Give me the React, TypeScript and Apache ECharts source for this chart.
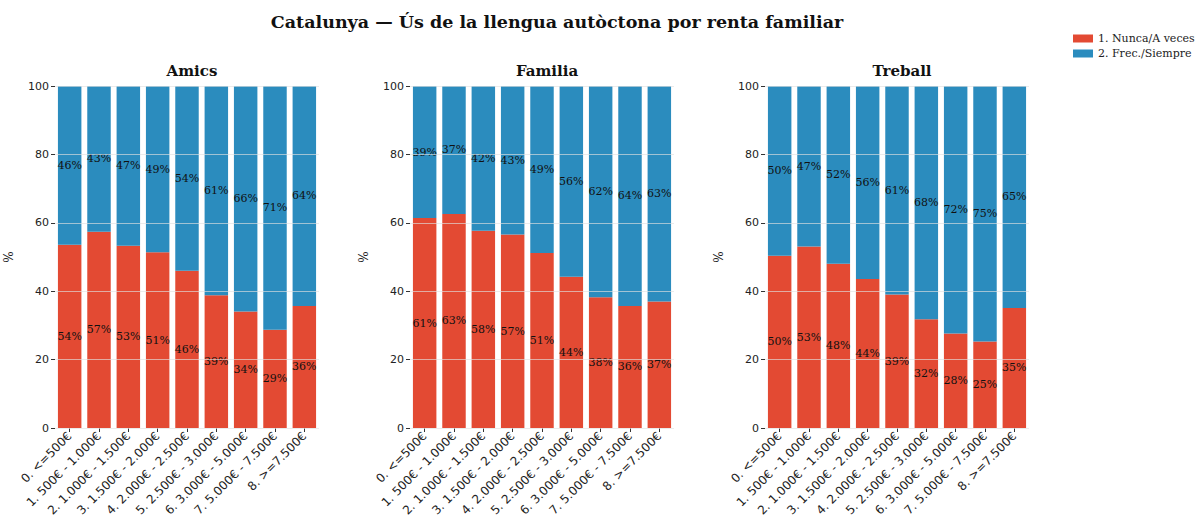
import React, { useEffect, useRef } from "react";
import * as echarts from "echarts";

const categories = [
  "0. <=500€",
  "1. 500€ - 1.000€",
  "2. 1.000€ - 1.500€",
  "3. 1.500€ - 2.000€",
  "4. 2.000€ - 2.500€",
  "5. 2.500€ - 3.000€",
  "6. 3.000€ - 5.000€",
  "7. 5.000€ - 7.500€",
  "8. >=7.500€",
];
const panels = ["Amics", "Familia", "Treball"];
const seriesNames = ["1. Nunca/A veces", "2. Frec./Siempre"];

const amicsNunca = [53.6, 57.4, 53.3, 51.4, 46.0, 38.8, 34.1, 28.7, 35.7];
const amicsFrec = [46.4, 42.6, 46.7, 48.6, 54.0, 61.2, 65.9, 71.3, 64.3];
const familiaNunca = [61.4, 62.6, 57.7, 56.6, 51.2, 44.2, 38.2, 35.7, 37.0];
const familiaFrec = [38.6, 37.4, 42.3, 43.4, 48.8, 55.8, 61.8, 64.3, 63.0];
const treballNunca = [50.4, 53.1, 48.0, 43.6, 39.0, 31.8, 27.6, 25.3, 35.1];
const treballFrec = [49.6, 46.9, 52.0, 56.4, 61.0, 68.2, 72.4, 74.7, 64.9];
const yTicks = [0, 20, 40, 60, 80, 100];

const panelData = [
  [amicsNunca, amicsFrec],
  [familiaNunca, familiaFrec],
  [treballNunca, treballFrec],
];
const colors = ["#e34a33", "#2b8cbe"];

export default function App() {
  const ref = useRef<HTMLDivElement>(null);
  useEffect(() => {
    document.body.style.margin = "0";
    if (!ref.current) return;
    const chart = echarts.init(ref.current, null, { renderer: "svg" });
    const lefts = [55, 410, 765];
    const width = 264;
    const grids = lefts.map((l) => ({ left: l, width, top: 86, height: 342 }));
    const xAxes = lefts.map((_, i) => ({
      type: "category",
      gridIndex: i,
      data: categories,
      axisLine: { show: false },
      axisTick: { show: true, alignWithLabel: true, length: 4, lineStyle: { color: "#333" } },
      axisLabel: {
        rotate: 45,
        interval: 0,
        fontFamily: "DejaVu Sans",
        fontSize: 12,
        color: "#222",
        margin: 6,
      },
    }));
    const yAxes = lefts.map((_, i) => ({
      type: "value",
      gridIndex: i,
      min: 0,
      max: 100,
      interval: 20,
      z: 5,
      name: "%",
      nameLocation: "middle",
      nameGap: 40,
      nameTextStyle: { fontFamily: "DejaVu Serif", fontSize: 12, color: "#222" },
      axisLine: { show: false },
      axisTick: { show: true, length: 4, lineStyle: { color: "#333" } },
      axisLabel: {
        fontFamily: "DejaVu Sans",
        fontSize: 11,
        color: "#222",
        margin: 6,
        formatter: (v: number) => (yTicks.includes(v) ? String(v) : ""),
      },
      splitLine: { show: true, lineStyle: { color: "rgba(225,225,225,0.65)", width: 1 } },
    }));
    const series: any[] = [];
    panelData.forEach((pd, pi) => {
      pd.forEach((vals, si) => {
        series.push({
          type: "bar",
          name: seriesNames[si],
          stack: "s" + pi,
          xAxisIndex: pi,
          yAxisIndex: pi,
          data: vals,
          barCategoryGap: "20%",
          itemStyle: { color: colors[si] },
          label: {
            show: true,
            position: "inside",
            fontFamily: "DejaVu Serif",
            fontSize: 11,
            color: "#111",
            formatter: (p: any) => Math.round(p.value) + "%",
          },
          z: 2,
        });
      });
    });
    chart.setOption({
      animation: false,
      backgroundColor: "#ffffff",
      title: [
        {
          text: "Catalunya — Ús de la llengua autòctona por renta familiar",
          left: 552,
          top: 8,
          textAlign: "center",
          textStyle: { fontFamily: "DejaVu Serif", fontWeight: "bold", fontSize: 17.5, color: "#111" },
        },
        ...panels.map((p, i) => ({
          text: p,
          left: lefts[i] + width / 2,
          top: 58,
          textAlign: "center",
          textStyle: { fontFamily: "DejaVu Serif", fontWeight: "bold", fontSize: 15, color: "#111" },
        })),
      ],
      legend: {
        data: seriesNames,
        orient: "vertical",
        left: 1068,
        top: 28,
        itemWidth: 20,
        itemHeight: 8,
        itemGap: 4,
        icon: "rect",
        textStyle: { fontFamily: "DejaVu Serif", fontSize: 11, color: "#222" },
      },
      grid: grids,
      xAxis: xAxes,
      yAxis: yAxes,
      series,
    });
    return () => chart.dispose();
  }, []);
  return <div ref={ref} style={{ width: 1200, height: 522 }} />;
}
